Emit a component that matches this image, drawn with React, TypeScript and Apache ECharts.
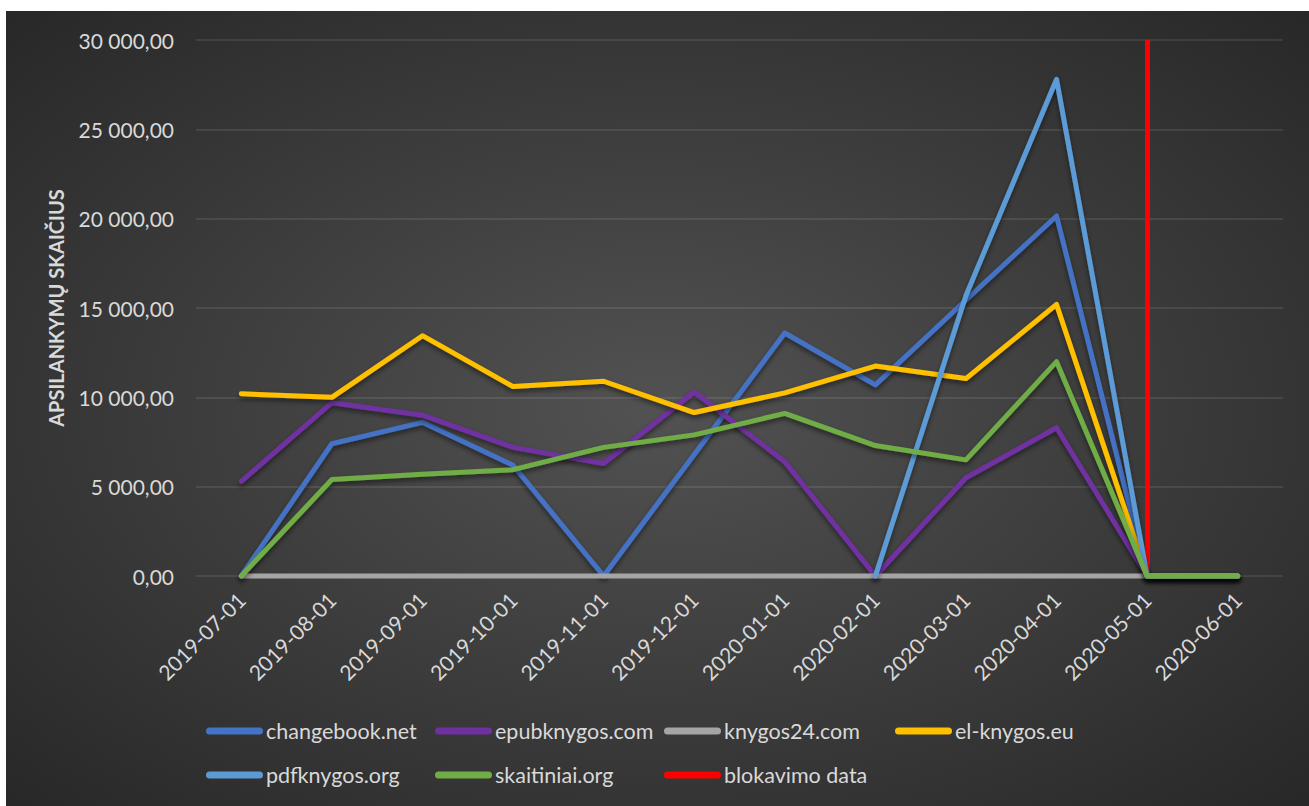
import React, { useEffect, useRef } from "react";
import * as echarts from "echarts";

const CATEGORIES = [
  "2019-07-01", "2019-08-01", "2019-09-01", "2019-10-01", "2019-11-01", "2019-12-01",
  "2020-01-01", "2020-02-01", "2020-03-01", "2020-04-01", "2020-05-01", "2020-06-01",
];

const CHANGEBOOK = [0, 7400, 8600, 6200, 0, 6800, 13600, 10700, 15450, 20150, 0, 0];
const EPUBKNYGOS = [5300, 9700, 9000, 7200, 6300, 10300, 6400, 0, 5500, 8300, 0, 0];
const KNYGOS24 = [0, 0, 0, 0, 0, 0, 0, 0, 0, 0, 0, 0];
const ELKNYGOS = [10200, 10000, 13450, 10600, 10900, 9150, 10250, 11750, 11050, 15200, 0, 0];
const PDFKNYGOS = [null, null, null, null, null, null, null, 0, 15700, 27800, 0, 0];
const SKAITINIAI = [0, 5400, 5700, 5950, 7200, 7900, 9100, 7300, 6500, 12000, 0, 0];

const BLOCK_DATE = "2020-05-01";
const Y_TICKS_MAX = 30000;
const Y_INTERVAL = 5000;

const SERIES_NAMES = [
  "changebook.net", "epubknygos.com", "knygos24.com", "el-knygos.eu",
  "pdfknygos.org", "skaitiniai.org", "blokavimo data",
];
const COLORS = ["#4472C4", "#7030A0", "#A5A5A5", "#FFC000", "#5B9BD5", "#70AD47", "#FF0000"];

const FONT = "Lato, 'Noto Sans', sans-serif";
const TEXT_COLOR = "#D9D9D9";

function fmt(v: number): string {
  const s = Math.round(v).toString().replace(/\B(?=(\d{3})+(?!\d))/g, " ");
  return s + ",00";
}

export default function App() {
  const ref = useRef<HTMLDivElement>(null);
  useEffect(() => {
    if (!ref.current) return;
    const chart = echarts.init(ref.current, undefined, { renderer: "svg" });
    const dataSets = [CHANGEBOOK, EPUBKNYGOS, KNYGOS24, ELKNYGOS, PDFKNYGOS, SKAITINIAI];
    const lineSeries = dataSets.map((d, i) => {
      const flat = d.every((v) => v === 0);
      return {
        name: SERIES_NAMES[i],
        type: "line",
        data: d,
        symbol: "none",
        clip: false,
        connectNulls: false,
        z: 2 + i,
        lineStyle: flat
          ? { width: 5, color: COLORS[i], cap: "round", join: "round" }
          : {
              width: 5,
              color: COLORS[i],
              cap: "round",
              join: "round",
              shadowColor: "rgba(0,0,0,0.5)",
              shadowBlur: 5,
              shadowOffsetY: 3,
            },
        itemStyle: { color: COLORS[i] },
      };
    });
    const redSeries = {
      name: SERIES_NAMES[6],
      type: "line",
      data: CATEGORIES.map(() => null),
      symbol: "none",
      z: 20,
      lineStyle: { width: 5, color: COLORS[6] },
      itemStyle: { color: COLORS[6] },
      markLine: {
        silent: true,
        symbol: "none",
        label: { show: false },
        lineStyle: { color: COLORS[6], width: 5, type: "solid" },
        data: [[{ coord: [BLOCK_DATE, 0] }, { coord: [BLOCK_DATE, Y_TICKS_MAX] }]],
      },
    };

    const colX = [200, 429, 658, 889];
    const rowY = [709, 753];
    const layout = [
      [0, 0], [1, 0], [2, 0], [3, 0],
      [0, 1], [1, 1], [2, 1],
    ];
    const legends = SERIES_NAMES.map((n, i) => ({
      data: [n],
      left: colX[layout[i][0]],
      top: rowY[layout[i][1]],
      padding: 0,
      itemWidth: 57,
      itemHeight: 7,
      itemGap: 0,
      icon: "path://M3.5,0 H53.5 A3.5,3.5 0 0 1 53.5,7 H3.5 A3.5,3.5 0 0 1 3.5,0 Z",
      selectedMode: false,
      textStyle: { color: TEXT_COLOR, fontSize: 21.5, fontFamily: FONT, padding: [0, 0, 0, -2] },
    }));

    chart.setOption({
      animation: false,
      backgroundColor: {
        type: "radial",
        x: 0.5,
        y: 0.5,
        r: 0.75,
        colorStops: [
          { offset: 0, color: "#525252" },
          { offset: 1, color: "#252525" },
        ],
      },
      legend: legends,
      grid: { left: 190, right: 26, top: 29, bottom: 230, containLabel: false },
      xAxis: {
        type: "category",
        data: CATEGORIES,
        boundaryGap: true,
        axisLine: { show: false },
        axisTick: { show: false },
        axisLabel: {
          rotate: 45,
          color: TEXT_COLOR,
          fontSize: 21,
          fontFamily: FONT,
          margin: 20,
          interval: 0,
        },
      },
      yAxis: {
        type: "value",
        min: 0,
        max: Y_TICKS_MAX,
        interval: Y_INTERVAL,
        name: "APSILANKYMŲ SKAIČIUS",
        nameLocation: "middle",
        nameGap: 130,
        nameTextStyle: { color: TEXT_COLOR, fontSize: 20, fontWeight: "bold", fontFamily: FONT },
        axisLine: { show: false },
        axisTick: { show: false },
        axisLabel: {
          color: TEXT_COLOR,
          fontSize: 21,
          fontFamily: FONT,
          margin: 22,
          formatter: (v: number) => fmt(v),
        },
        splitLine: { lineStyle: { color: "rgba(255,255,255,0.12)", width: 1.5 } },
      },
      series: [...lineSeries, redSeries],
    });
    return () => chart.dispose();
  }, []);

  return (
    <div style={{ position: "fixed", left: 0, top: 0, width: 1309, height: 806, background: "#ffffff" }}>
      <div ref={ref} style={{ position: "absolute", left: 6, top: 11, width: 1303, height: 795 }} />
    </div>
  );
}
